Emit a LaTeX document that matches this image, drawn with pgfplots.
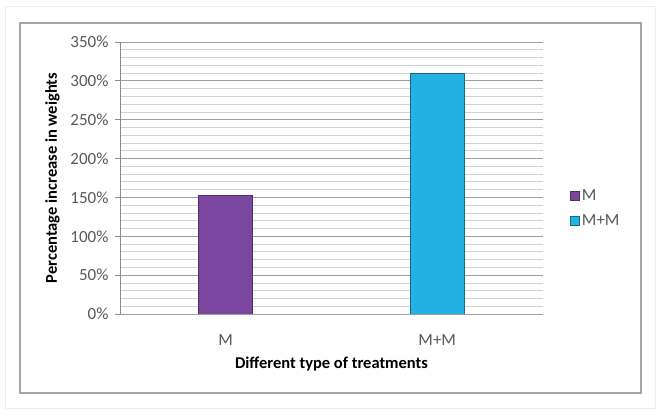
\documentclass[border=0pt]{standalone}
\usepackage{pgfplots}
\pgfplotsset{compat=1.18}
\usepackage{fontspec}
\setmainfont{Carlito}
\definecolor{barM}{HTML}{7B46A0}
\definecolor{barMM}{HTML}{22B1E2}
\definecolor{tickgray}{HTML}{595959}
\begin{document}
\begin{tikzpicture}
\fill[white] (0bp,0bp) rectangle (660bp,413bp);
\draw[black!7, line width=0.8bp] (5bp,5bp) rectangle (655bp,407bp);
\draw[black!35, line width=1.2bp] (20bp,20bp) rectangle (641bp,390bp);
\begin{axis}[
  at={(120bp,99bp)}, anchor=south west,
  scale only axis, width=423bp, height=272bp,
  xmin=-0.5, xmax=1.5, ymin=0, ymax=350,
  xtick={0,1}, xticklabels={M,M+M},
  ytick={0,50,...,350}, minor ytick={10,20,...,340},
  yticklabel={\pgfmathprintnumber{\tick}\%},
  /pgf/number format/assume math mode=true,
  ymajorgrids, yminorgrids,
  major grid style={black!38, line width=0.9bp},
  minor grid style={black!18, line width=0.8bp},
  axis x line*=bottom, axis y line*=left,
  axis line style={black!45, line width=0.9bp, -},
  x axis line style={draw=none},
  xtick style={draw=none},
  ytick style={black!45, line width=0.8bp},
  tick align=outside, major tick length=5bp, minor tick length=0pt,
  ticklabel style={font=\fontsize{17bp}{19bp}\selectfont, text=tickgray},
  xticklabel style={yshift=-12bp},
  yticklabel style={xshift=-3bp},
  xlabel={Different type of treatments},
  ylabel={Percentage increase in weights},
  label style={font=\fontsize{16.5bp}{19bp}\selectfont\bfseries, text=black},
  xlabel style={yshift=-5bp},
  ylabel style={yshift=4bp},
  ybar, bar width=54bp,
  legend style={at={(1,0.388)}, anchor=west, xshift=24bp, draw=none, fill=none,
    font=\fontsize{17bp}{19bp}\selectfont, text=tickgray, row sep=9bp,
    cells={anchor=west}},
  legend image code/.code={\draw[#1] (0bp,-4.5bp) rectangle (9bp,4.5bp);},
]
\addplot[bar shift=0pt, fill=barM, draw=barM!65!black, line width=0.8bp] coordinates {(0,153)};
\addlegendentry{M}
\addplot[bar shift=0pt, fill=barMM, draw=barMM!60!black, line width=0.6bp] coordinates {(1,310)};
\addlegendentry{M+M}
\draw[black!50, line width=0.9bp] (axis cs:-0.5,0) -- (axis cs:1.5,0);
\end{axis}
\end{tikzpicture}
\end{document}
